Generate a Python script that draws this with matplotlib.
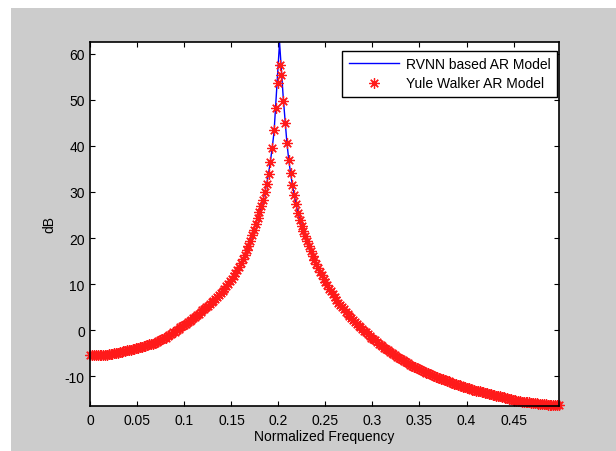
import numpy as np
import matplotlib
matplotlib.use("Agg")
import matplotlib.pyplot as plt
from matplotlib.patches import Rectangle

# spectrum in dB on a 512-point grid, bins 0..255
yw_db = [
    -5.5, -5.5, -5.5, -5.5, -5.5, -5.5, -5.4, -5.4, -5.3, -5.3,
    -5.2, -5.1, -5.1, -5.0, -4.9, -4.9, -4.8, -4.7, -4.6, -4.5,
    -4.4, -4.3, -4.2, -4.1, -4.0, -3.9, -3.8, -3.7, -3.6, -3.5,
    -3.4, -3.3, -3.1, -3.0, -2.9, -2.8, -2.6, -2.4, -2.2, -2.0,
    -1.8, -1.6, -1.3, -1.1, -0.8, -0.5, -0.3, 0.0, 0.3, 0.6,
    0.9, 1.1, 1.4, 1.7, 2.0, 2.3, 2.6, 2.9, 3.3, 3.6,
    3.9, 4.3, 4.6, 5.0, 5.3, 5.7, 6.1, 6.4, 6.8, 7.2,
    7.6, 8.0, 8.5, 9.0, 9.5, 10.0, 10.6, 11.2, 11.8, 12.4,
    13.0, 13.8, 14.6, 15.4, 16.3, 17.3, 18.3, 19.4, 20.6, 21.8,
    23.0, 24.3, 25.6, 26.9, 28.3, 29.9, 31.8, 34.0, 36.6, 39.6,
    43.4, 48.3, 53.7, 57.5, 55.3, 49.8, 44.9, 40.7, 37.0, 34.1,
    31.5, 29.3, 27.3, 25.5, 24.0, 22.7, 21.5, 20.4, 19.4, 18.3,
    17.2, 16.2, 15.2, 14.3, 13.5, 12.7, 11.9, 11.1, 10.4, 9.7,
    9.0, 8.4, 7.8, 7.2, 6.6, 6.0, 5.5, 5.0, 4.5, 4.0,
    3.5, 3.0, 2.6, 2.2, 1.8, 1.4, 1.0, 0.6, 0.2, -0.2,
    -0.5, -0.9, -1.2, -1.6, -1.9, -2.2, -2.5, -2.9, -3.2, -3.5,
    -3.8, -4.1, -4.4, -4.7, -5.0, -5.2, -5.5, -5.8, -6.0, -6.3,
    -6.5, -6.8, -7.0, -7.2, -7.5, -7.7, -7.9, -8.1, -8.3, -8.5,
    -8.7, -8.9, -9.1, -9.3, -9.4, -9.6, -9.8, -9.9, -10.1, -10.2,
    -10.4, -10.5, -10.7, -10.8, -11.0, -11.1, -11.3, -11.4, -11.6, -11.7,
    -11.9, -12.0, -12.1, -12.3, -12.4, -12.5, -12.6, -12.8, -12.9, -13.0,
    -13.1, -13.2, -13.3, -13.4, -13.5, -13.6, -13.7, -13.8, -13.9, -14.0,
    -14.1, -14.2, -14.3, -14.4, -14.5, -14.6, -14.7, -14.8, -14.9, -15.0,
    -15.1, -15.2, -15.3, -15.3, -15.4, -15.5, -15.5, -15.6, -15.7, -15.7,
    -15.8, -15.8, -15.9, -15.9, -16.0, -16.0, -16.1, -16.1, -16.1, -16.2,
    -16.2, -16.2, -16.3, -16.3, -16.3, -16.3,
]

# the RVNN curve follows the Yule Walker one except around the peak
rvnn_peak_bins = [100, 101, 102, 103, 104, 105, 106]
rvnn_peak_db = [43.0, 49.5, 56.0, 62.5, 56.5, 50.5, 45.5]

xtick_vals = [0, 0.05, 0.1, 0.15, 0.2, 0.25, 0.3, 0.35, 0.4, 0.45]
xtick_labels = ["0", "0.05", "0.1", "0.15", "0.2", "0.25", "0.3", "0.35", "0.4", "0.45"]
ytick_vals = [-10, 0, 10, 20, 30, 40, 50, 60]

freq = np.arange(len(yw_db)) / 512.0
rvnn_db = list(yw_db)
for b, v in zip(rvnn_peak_bins, rvnn_peak_db):
    rvnn_db[b] = v

plt.rcParams["font.family"] = ["Liberation Sans", "DejaVu Sans"]
plt.rcParams["font.size"] = 10
plt.rcParams["axes.unicode_minus"] = False

fig = plt.figure(figsize=(6.16, 4.52), dpi=100, facecolor="white")
fig.patches.append(Rectangle((11 / 616, 0), 1, 1 - 9 / 452, transform=fig.transFigure,
                             facecolor="#cccccc", edgecolor="none", zorder=-1))
ax = fig.add_axes([90.4 / 616, 1 - 406.7 / 452, 468.3 / 616, 363.4 / 452])

ax.plot(freq, rvnn_db, color="#0000ff", lw=1.0, label="RVNN based AR Model")
# MATLAB does not clip markers at the axes edge
ax.plot(freq, yw_db, ls="none", marker=(8, 2, 0), ms=7.5, mew=0.9, color="#ff1a1a",
        label="Yule Walker AR Model", clip_on=False)

ax.set_xlim(0, 255 / 512)
ax.set_ylim(-16.4, 62.5)
ax.set_xticks(xtick_vals)
ax.set_xticklabels(xtick_labels)
ax.set_yticks(ytick_vals)
ax.tick_params(direction="in", length=3.6, width=0.8, top=True, right=True,
               labelsize=10, pad=4)
ax.tick_params(axis="x", pad=5)
for s in ax.spines.values():
    s.set_linewidth(1.2)

ax.set_xlabel("Normalized Frequency", labelpad=2)
ax.set_ylabel("dB", labelpad=6)

leg = ax.legend(loc="upper right", bbox_to_anchor=(0.9957, 0.977), borderaxespad=0,
                fancybox=False, framealpha=1, edgecolor="black", handlelength=3.6,
                handletextpad=0.5, borderpad=0.45, labelspacing=0.4, fontsize=10)
leg.get_frame().set_linewidth(1.0)

fig.savefig("out.png", dpi=100)
